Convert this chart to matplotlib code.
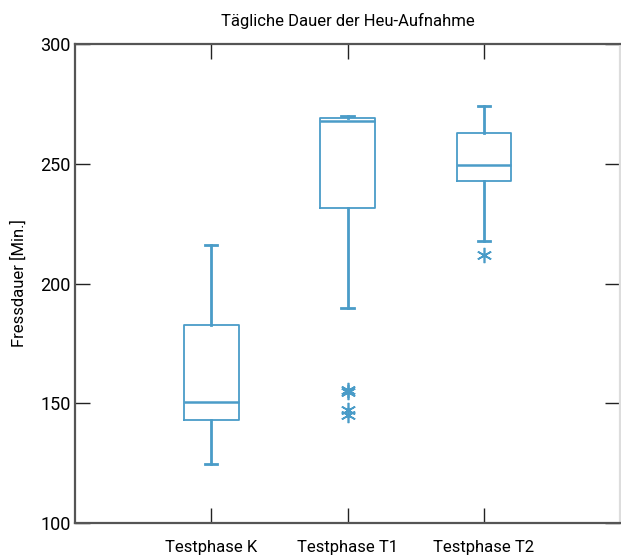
import matplotlib
matplotlib.use("Agg")
from matplotlib import pyplot as plt

plt.rcParams['font.family'] = ['Roboto', 'DejaVu Sans']

# Kennwerte je Testphase
labels = ["Testphase K", "Testphase T1", "Testphase T2"]
whisker_low = [124.6, 189.8, 217.7]
q1 = [142.9, 231.5, 243.0]
median = [150.7, 268.0, 249.5]
q3 = [182.8, 269.0, 263.0]
whisker_high = [216.0, 270.1, 274.3]
outliers = [[], [155.7, 154.9, 147.0, 145.3], [211.9]]

blue = "#4a9cc8"

stats = []
for i in range(len(labels)):
    stats.append({"label": labels[i], "whislo": whisker_low[i], "q1": q1[i], "med": median[i],
                  "q3": q3[i], "whishi": whisker_high[i], "fliers": outliers[i]})

fig = plt.figure(figsize=(6.21, 5.56), dpi=100)
ax = fig.add_axes([75 / 621, 1 - 523 / 556, 545 / 621, 479 / 556])

ax.bxp(stats, positions=[1, 2, 3], widths=0.4, capwidths=0.09,
       boxprops=dict(color=blue, linewidth=1.3),
       medianprops=dict(color=blue, linewidth=1.8),
       whiskerprops=dict(color=blue, linewidth=2.0),
       capprops=dict(color=blue, linewidth=2.0),
       flierprops=dict(marker=(6, 2, 0), markersize=11, markeredgecolor=blue,
                       markeredgewidth=1.2, linestyle="none"))

ax.set_xlim(0, 4)
ax.set_ylim(100, 300)
ax.set_yticks([100, 150, 200, 250, 300])
ax.set_xticks([1, 2, 3])
ax.set_xticklabels(labels)
ax.tick_params(direction="in", length=11, width=1.0, color="#222222",
               top=True, right=True, labelsize=12, pad=5)
ax.tick_params(axis="x", pad=12)
ax.tick_params(axis="y", labelsize=13, pad=3)
for s in ax.spines.values():
    s.set_color("#555555")
    s.set_linewidth(1.6)
ax.spines["right"].set_color("#dddddd")

ax.set_ylabel("Fressdauer [Min.]", fontsize=12, labelpad=10)
ax.set_title("Tägliche Dauer der Heu-Aufnahme", fontsize=12, pad=13)

plt.savefig("out.png", dpi=100)
